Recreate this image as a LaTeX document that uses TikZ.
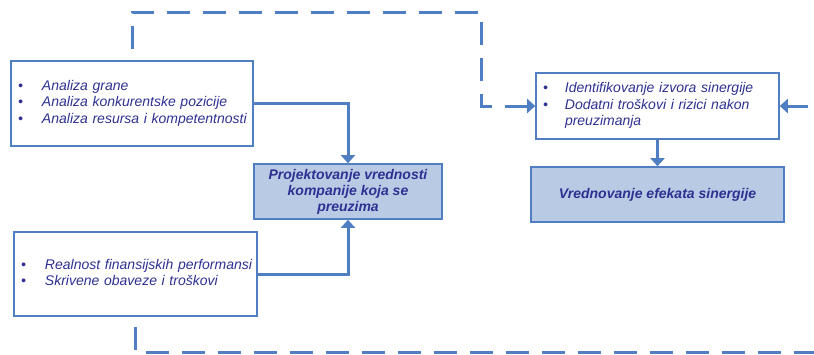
\documentclass[tikz,border=0pt]{standalone}
\usepackage{fontspec}
\setmainfont{Liberation Sans}
\usetikzlibrary{arrows.meta}
\definecolor{lineblue}{HTML}{4F7EC2}
\definecolor{boxfill}{HTML}{B8CAE4}
\definecolor{textnavy}{HTML}{2E3192}

\begin{document}
\begin{tikzpicture}[x=1pt,y=-1pt,
  font=\fontsize{14}{16.5}\selectfont\itshape,
  box/.style={draw=lineblue,line width=1.6pt,fill=white,text=textnavy,
    inner xsep=7pt,align=left},
  keybox/.style={draw=lineblue,line width=1.6pt,fill=boxfill,text=textnavy,
    font=\fontsize{14}{16}\selectfont\bfseries\itshape,align=center},
  link/.style={draw=lineblue,line width=3pt,-{Triangle[length=8pt,width=14pt]}},
  dashline/.style={draw=lineblue,line width=3pt,dash pattern=on 23pt off 13pt},
  dashlink/.style={dashline,-{Triangle[length=8pt,width=14pt]}}]
\useasboundingbox (0,0) rectangle (814,354);
% Analysis boxes (left)
\node[box,text width=228pt,minimum height=85pt] (analiza) at (132,103.5)
  {\begin{tabular}{@{}p{24pt}@{}l@{}}
   \textbullet & Analiza grane\\
   \textbullet & Analiza konkurentske pozicije\\
   \textbullet & Analiza resursa i kompetentnosti
   \end{tabular}};
\node[box,text width=229pt,minimum height=84pt] (realnost) at (135.5,274)
  {\begin{tabular}{@{}p{24pt}@{}l@{}}
   \textbullet & Realnost finansijskih performansi\\
   \textbullet & Skrivene obaveze i troškovi
   \end{tabular}};
% Target value
\node[keybox,minimum width=188pt,minimum height=55pt] (projekt) at (348,191.5)
  {Projektovanje vrednosti\\kompanije koja se\\preuzima};
% Synergy boxes (right)
\node[box,text width=229pt,minimum height=66pt] (izvori) at (657.5,106)
  {\begin{tabular}{@{}p{22pt}@{}l@{}}
   \textbullet & Identifikovanje izvora sinergije\\
   \textbullet & Dodatni troškovi i rizici nakon\\
               & preuzimanja
   \end{tabular}};
\node[keybox,minimum width=253pt,minimum height=55pt] (sinergija) at (657.5,194.5)
  {Vrednovanje efekata sinergije};
% Solid connectors
\draw[link] (analiza.east) -| (projekt.north);
\draw[link] (realnost.east) -| (projekt.south);
\draw[link] (izvori.south) -- (sinergija.north);
\coordinate (desno) at (808,106);
\draw[link] (desno) -- (izvori.east);
% Dashed feedback lines
\coordinate (gorestart) at (132,49);
\coordinate (goreugao) at (481,12);
\draw[dashlink] (gorestart) |- (goreugao) |- (izvori.west);
\coordinate (dolestart) at (135,327);
\coordinate (dolekraj) at (814,352);
\draw[dashline] (dolestart) |- (dolekraj);
\end{tikzpicture}
\end{document}
